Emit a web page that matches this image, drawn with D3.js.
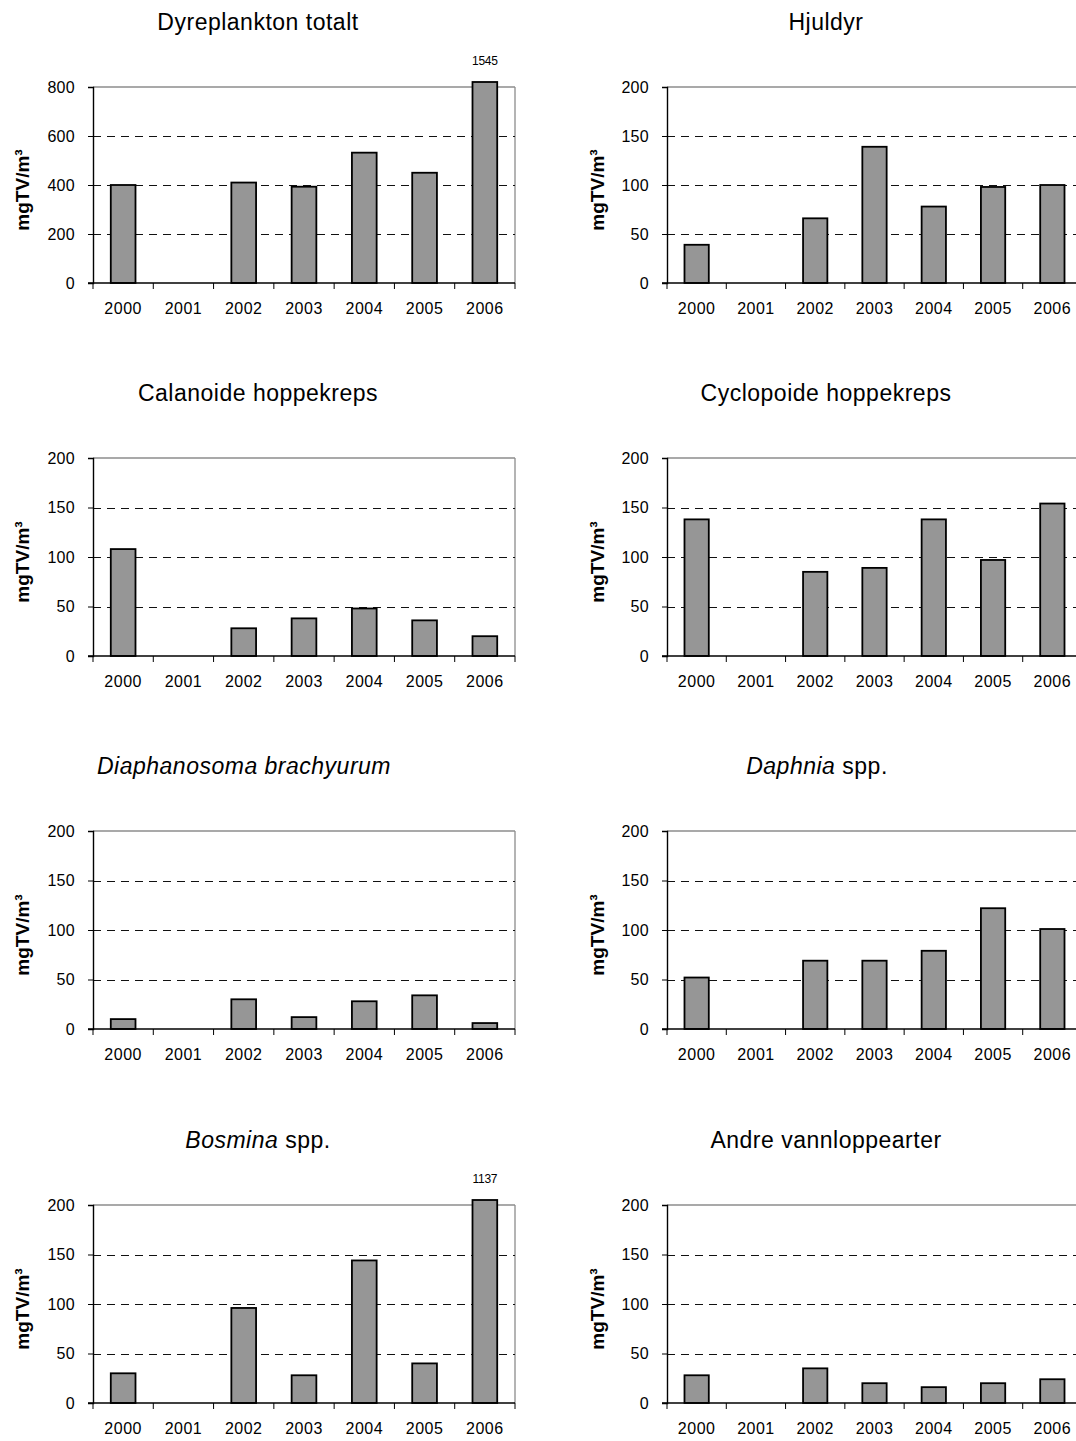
<!DOCTYPE html>
<html><head><meta charset="utf-8">
<script src="https://cdn.jsdelivr.net/npm/d3@7"></script>
<style>
body{margin:0;background:#fff}
text{font-family:"Liberation Sans",Arial,Helvetica,sans-serif;fill:#000}
</style>
</head><body>
<svg id="c" width="1076" height="1441"></svg>
<script>
// ---- data ----
const years = ["2000","2001","2002","2003","2004","2005","2006"];
const totalt      = [400, null, 410, 393, 532, 450, 1545];
const hjuldyr     = [39, null, 66, 139, 78, 98, 100];
const calanoide   = [108, null, 28, 38, 48, 36, 20];
const cyclopoide  = [138, null, 85, 89, 138, 97, 154];
const diaphanosoma= [10, null, 30, 12, 28, 34, 6];
const daphnia     = [52, null, 69, 69, 79, 122, 101];
const bosmina     = [30, null, 96, 28, 144, 40, 1137];
const andre       = [28, null, 35, 20, 16, 20, 24];
const titleParts = [
  [["Dyreplankton totalt", false]],
  [["Hjuldyr", false]],
  [["Calanoide hoppekreps", false]],
  [["Cyclopoide hoppekreps", false]],
  [["Diaphanosoma brachyurum", true]],
  [["Daphnia", true], [" spp.", false]],
  [["Bosmina", true], [" spp.", false]],
  [["Andre vannloppearter", false]]
];
const seriesList = [totalt, hjuldyr, calanoide, cyclopoide, diaphanosoma, daphnia, bosmina, andre];
const yMaxes = [800, 200, 200, 200, 200, 200, 200, 200];
const yTicks800 = [0, 200, 400, 600, 800];
const yTicks200 = [0, 50, 100, 150, 200];
const yLabel = "mgTV/m³";

// ---- layout ----
const cols = [{x0: 93, x1: 515, tx: 258, lx: 22}, {x0: 667, x1: 1082, tx: 826, lx: 597}];
const rows = [{y0: 87, y1: 283}, {y0: 458, y1: 656}, {y0: 831, y1: 1029}, {y0: 1205, y1: 1403}];
const titleShift = [0, 0, 0, 0, -14, -9, 0, 0];

const svg = d3.select("#c");

seriesList.forEach((vals, i) => {
  const col = cols[i % 2], row = rows[Math.floor(i / 2)];
  const g = svg.append("g");
  const x = d3.scaleBand().domain(years).range([col.x0, col.x1]).padding(0);
  const yMax = yMaxes[i];
  const y = d3.scaleLinear().domain([0, yMax]).range([row.y1, row.y0]);
  const ticks = yMax === 800 ? yTicks800 : yTicks200;

  // top & right border (gray)
  g.append("line").attr("x1", col.x0).attr("x2", col.x1).attr("y1", y(yMax)).attr("y2", y(yMax))
    .attr("stroke", "#8c8c8c").attr("stroke-width", 1.3);
  g.append("line").attr("x1", col.x1).attr("x2", col.x1).attr("y1", y(yMax)).attr("y2", y(0))
    .attr("stroke", "#8c8c8c").attr("stroke-width", 1.3);

  // dashed gridlines
  g.selectAll(".grid").data(ticks.filter(t => t > 0 && t < yMax)).enter().append("line")
    .attr("x1", col.x0).attr("x2", col.x1)
    .attr("y1", d => Math.round(y(d)) + 0.5).attr("y2", d => Math.round(y(d)) + 0.5)
    .attr("stroke", "#111").attr("stroke-width", 1).attr("stroke-dasharray", "8,6");

  // bars
  const bw = x.bandwidth() * 0.41;
  g.selectAll(".bar").data(years.map((yr, k) => ({yr, v: vals[k]})).filter(d => d.v != null))
    .enter().append("rect")
    .attr("x", d => x(d.yr) + (x.bandwidth() - bw) / 2)
    .attr("width", bw)
    .attr("y", d => d.v > yMax ? y(yMax) - 5 : y(d.v))
    .attr("height", d => d.v > yMax ? y(0) - y(yMax) + 5 : y(0) - y(d.v))
    .attr("fill", "#969696").attr("stroke", "#000").attr("stroke-width", 1.8);

  // overflow value labels
  years.forEach((yr, k) => {
    const v = vals[k];
    if (v != null && v > yMax) {
      g.append("text").attr("x", x(yr) + x.bandwidth() / 2).attr("y", y(yMax) - 22)
        .attr("text-anchor", "middle").attr("font-size", 12).attr("letter-spacing", "-0.3")
        .text(v);
    }
  });

  // y axis
  const yAxis = d3.axisLeft(y).tickValues(ticks).tickSize(5).tickPadding(13).tickFormat(d3.format("d"));
  const ya = g.append("g").attr("transform", `translate(${col.x0},0)`).call(yAxis);
  ya.select(".domain").attr("stroke", "#000").attr("stroke-width", 1.4);
  ya.selectAll(".tick line").attr("stroke", "#000");
  ya.selectAll(".tick text").attr("font-size", 16).attr("font-family", "Liberation Sans, Arial, sans-serif")
    .attr("fill", "#000").attr("letter-spacing", "0.3");

  // x axis
  const xa = g.append("g").attr("transform", `translate(0,${y(0)})`);
  xa.append("line").attr("x1", col.x0 - 5).attr("x2", col.x1).attr("stroke", "#000").attr("stroke-width", 1.4);
  xa.selectAll(".xt").data(d3.range(years.length + 1)).enter().append("line")
    .attr("x1", k => col.x0 + k * x.step()).attr("x2", k => col.x0 + k * x.step())
    .attr("y1", 0).attr("y2", 6).attr("stroke", "#000").attr("stroke-width", 1);
  xa.selectAll(".xl").data(years).enter().append("text")
    .attr("x", d => x(d) + x.bandwidth() / 2).attr("y", 31)
    .attr("text-anchor", "middle").attr("font-size", 16).attr("letter-spacing", "0.5").text(d => d);

  // y label
  g.append("text").attr("transform", `translate(${col.lx + 7},${(row.y0 + row.y1) / 2 + 5}) rotate(-90)`)
    .attr("text-anchor", "middle").attr("font-size", 19).attr("font-weight", "bold").text(yLabel);

  // title
  const t = g.append("text").attr("x", col.tx + titleShift[i]).attr("y", row.y0 - 57).attr("text-anchor", "middle")
    .attr("font-size", 23).attr("letter-spacing", "0.5");
  titleParts[i].forEach(([s, it]) => {
    t.append("tspan").attr("font-style", it ? "italic" : "normal").text(s);
  });
});
</script>
</body></html>
